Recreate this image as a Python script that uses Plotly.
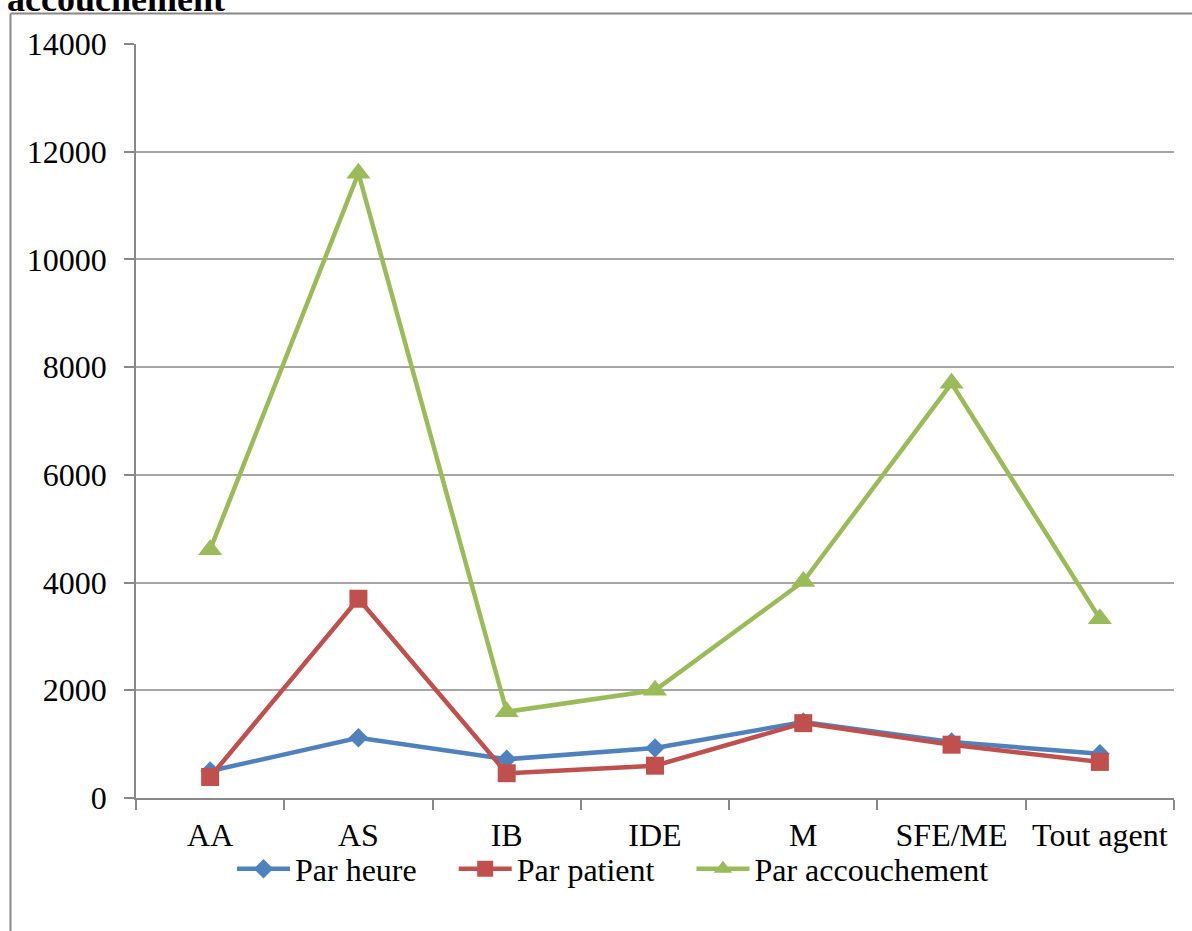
import plotly.graph_objects as go

categories = ["AA", "AS", "IB", "IDE", "M", "SFE/ME", "Tout agent"]
series_names = ["Par heure", "Par patient", "Par accouchement"]
par_heure = [500, 1120, 720, 930, 1410, 1040, 820]
par_patient = [390, 3700, 460, 600, 1390, 990, 670]
par_accouchement = [4610, 11600, 1600, 2000, 4020, 7700, 3330]
y_ticks = [0, 2000, 4000, 6000, 8000, 10000, 12000, 14000]

FONT = "Liberation Serif, Times New Roman, serif"
W, H = 1192, 931
L, R, T, B = 136, 18, 44, 133
pw, ph = W - L - R, H - T - B
PAD = "\u00a0" * 4  # spacing between legend entries

def px_x(p):
    return (p - L) / pw

def px_y(p):
    return (H - B - p) / ph

fig = go.Figure()
fig.add_trace(go.Scatter(
    x=categories, y=par_heure, name=series_names[0] + PAD, mode="lines+markers",
    line=dict(color="#4F81BD", width=4.5),
    marker=dict(symbol="diamond", size=15, color="#4F81BD")))
fig.add_trace(go.Scatter(
    x=categories, y=par_patient, name=series_names[1] + PAD, mode="lines+markers",
    line=dict(color="#C0504D", width=4.5),
    marker=dict(symbol="square", size=18, color="#C0504D")))
fig.add_trace(go.Scatter(
    x=categories, y=par_accouchement, name=series_names[2], mode="lines+markers",
    line=dict(color="#9BBB59", width=4.5),
    marker=dict(symbol="triangle-up", size=21, color="#9BBB59")))

fig.update_layout(
    width=W, height=H,
    margin=dict(l=L, r=R, t=T, b=B, pad=0),
    paper_bgcolor="white", plot_bgcolor="white",
    font=dict(family=FONT, size=32, color="black"),
    showlegend=True,
    legend=dict(orientation="h", x=px_x(232), xanchor="left",
                y=px_y(869), yanchor="middle",
                font=dict(family=FONT, size=32, color="black"),
                bgcolor="rgba(0,0,0,0)", itemwidth=53),
    xaxis=dict(type="category", range=[-0.5, 6.5], autorange=False,
               showgrid=False, showline=True,
               linecolor="#888888", linewidth=1.5,
               ticks="outside", tickson="boundaries", ticklen=10,
               tickcolor="#888888", tickwidth=1.5,
               ticklabelstandoff=8,
               tickfont=dict(family=FONT, size=32, color="black")),
    yaxis=dict(range=[0, 14000], autorange=False, tickvals=y_ticks,
               ticktext=[str(v) for v in y_ticks],
               showgrid=True, gridcolor="#A6A6A6", gridwidth=1.5,
               showline=True, linecolor="#888888", linewidth=1.5,
               ticks="outside", ticklen=10, tickcolor="#888888", tickwidth=1.5,
               ticklabelstandoff=11, zeroline=False,
               tickfont=dict(family=FONT, size=32, color="black")),
)

# chart-area frame (left and top edges visible)
fx = px_x(10.5)
fy = px_y(13.5)
fig.add_shape(type="line", xref="paper", yref="paper",
              x0=fx, x1=fx, y0=fy, y1=px_y(H + 20),
              line=dict(color="#888888", width=2))
fig.add_shape(type="line", xref="paper", yref="paper",
              x0=fx, x1=px_x(W + 20), y0=fy, y1=fy,
              line=dict(color="#888888", width=2))

# cropped title line at the very top
fig.add_annotation(text="<b>accouchement</b>", xref="paper", yref="paper",
                   x=px_x(5), xanchor="left", y=px_y(21), yanchor="bottom",
                   showarrow=False,
                   font=dict(family=FONT, size=36, color="black"))

fig.write_html("out.html")
